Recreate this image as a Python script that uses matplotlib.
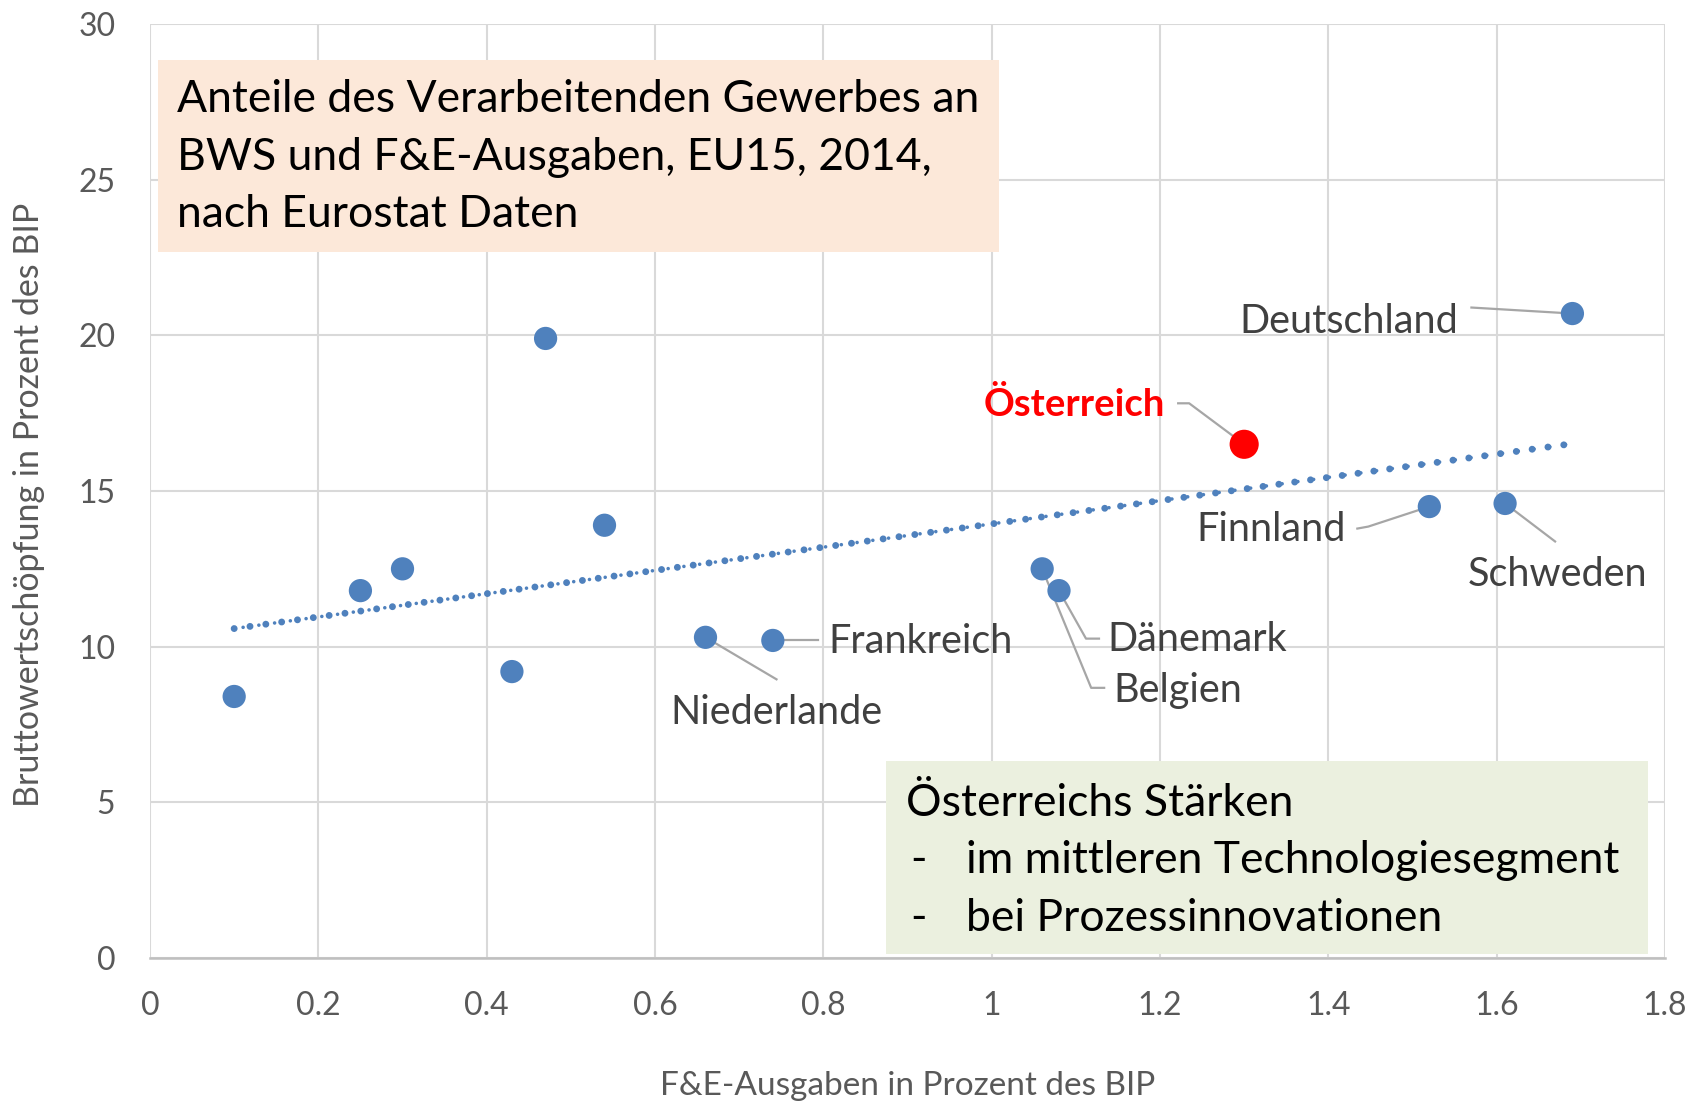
import numpy as np
import matplotlib
matplotlib.use("Agg")
import matplotlib.pyplot as plt
from matplotlib.patches import Rectangle
from matplotlib.transforms import IdentityTransform

# R&D spending (% of GDP) vs. gross value added of manufacturing (% of GDP)
rd_share = [0.10, 0.25, 0.30, 0.43, 0.47, 0.54, 0.66, 0.74, 1.06, 1.08, 1.30, 1.52, 1.61, 1.69]
gva_share = [8.4, 11.8, 12.5, 9.2, 19.9, 13.9, 10.3, 10.2, 12.5, 11.8, 16.5, 14.5, 14.6, 20.7]
country = ["", "", "", "", "", "", "Niederlande", "Frankreich", "Belgien", "Dänemark",
           "Österreich", "Finnland", "Schweden", "Deutschland"]

# label placement: pixel offsets from the point (x right, y down)
# (leader line vertices, text anchor, horizontal alignment)
label_layout = {
    "Deutschland": ([(0, 0), (-101, -6)], (-114, 8), "right"),
    "Österreich": ([(0, 0), (-55, -41), (-66, -41)], (-79, -40), "right"),
    "Finnland": ([(0, 0), (-61, 20), (-72, 22)], (-84, 23), "right"),
    "Schweden": ([(0, 0), (50, 38)], (-37, 71), "left"),
    "Frankreich": ([(0, 0), (45, 0)], (56, 1), "left"),
    "Niederlande": ([(0, 0), (71, 42)], (-35, 75), "left"),
    "Dänemark": ([(0, 0), (27, 48), (40, 48)], (48, 49), "left"),
    "Belgien": ([(0, 0), (49, 119), (62, 119)], (71, 122), "left"),
}

FONT = "Lato"
BLUE = "#4F81BD"
GREY_TXT = "#595959"

fig = plt.figure(figsize=(17.03, 11.07), dpi=100)
ax = fig.add_axes([150 / 1703, 1 - 958 / 1107, 1515 / 1703, 934 / 1107])

ax.set_xlim(0, 1.8)
ax.set_ylim(0, 30)
ax.set_xticks(np.arange(0, 1.81, 0.2))
ax.set_yticks(np.arange(0, 31, 5))
ax.set_xticklabels(["0", "0.2", "0.4", "0.6", "0.8", "1", "1.2", "1.4", "1.6", "1.8"])
ax.grid(color="#D9D9D9", lw=1.5, zorder=0)
ax.set_axisbelow(True)
for side in ["top", "right", "left"]:
    ax.spines[side].set_visible(False)
ax.spines["bottom"].set_color("#BFBFBF")
ax.spines["bottom"].set_linewidth(1.8)
ax.tick_params(length=0, labelsize=23, labelcolor=GREY_TXT)
ax.tick_params(axis="x", pad=24)
ax.tick_params(axis="y", pad=25)
for lbl in ax.get_xticklabels() + ax.get_yticklabels():
    lbl.set_fontfamily(FONT)

ax.set_xlabel("F&E-Ausgaben in Prozent des BIP", fontsize=24, color=GREY_TXT, family=FONT)
ax.set_ylabel("Bruttowertschöpfung in Prozent des BIP", fontsize=24.5, color=GREY_TXT, family=FONT)
ax.xaxis.set_label_coords(0.5, -0.137)
ax.xaxis.label.set_va("center")
ax.yaxis.set_label_coords(-0.08, 0.485)
ax.yaxis.label.set_va("center")

# linear trend line (big and small round dots, like the original)
slope, intercept = np.polyfit(rd_share, gva_share, 1)
tx = np.array([min(rd_share), max(rd_share)])
ty = slope * tx + intercept
ax.plot(tx, ty, color=BLUE, lw=5.0, linestyle=(0, (0.001, 2.3)),
        dash_capstyle="round", zorder=2)
ax.plot(tx, ty, color=BLUE, lw=2.6, linestyle=(1.9, (0.001, 4.4)),
        dash_capstyle="round", zorder=2)

colors = ["#FF0000" if c == "Österreich" else BLUE for c in country]
sizes = [440 if c == "Österreich" else 280 for c in country]
ax.scatter(rd_share, gva_share, s=sizes, c=colors, edgecolors="none", zorder=4)

# data labels with leader lines
fig.canvas.draw()
for x, y, name in zip(rd_share, gva_share, country):
    if name not in label_layout:
        continue
    verts, (tx_off, ty_off), ha = label_layout[name]
    px, py = ax.transData.transform((x, y))
    ax.plot([px + dx for dx, dy in verts], [py - dy for dx, dy in verts],
            transform=IdentityTransform(), color="#A6A6A6", lw=1.6, zorder=3)
    red = name == "Österreich"
    ax.text(px + tx_off, py - ty_off, name, transform=IdentityTransform(),
            ha=ha, va="center", fontsize=27.5 if red else 28.5, family=FONT,
            color="#FF0000" if red else "#404040",
            fontweight="bold" if red else "normal", zorder=5)

# title box
ax.add_patch(Rectangle((158 / 1703, 1 - 252 / 1107), 841 / 1703, 192 / 1107,
                       transform=fig.transFigure, facecolor="#FCE8D9", edgecolor="none",
                       zorder=3, clip_on=False))
title_lines = ["Anteile des Verarbeitenden Gewerbes an",
               "BWS und F&E-Ausgaben, EU15, 2014,",
               "nach Eurostat Daten"]
for i, line in enumerate(title_lines):
    fig.text(177 / 1703, 1 - (112 + 57.5 * i) / 1107, line, fontsize=32, family=FONT,
             color="black", va="baseline", zorder=6)

# strengths box
ax.add_patch(Rectangle((886 / 1703, 1 - 954 / 1107), 762 / 1703, 193 / 1107,
                       transform=fig.transFigure, facecolor="#EBF0DF", edgecolor="none",
                       zorder=3, clip_on=False))
fig.text(906 / 1703, 1 - 816 / 1107, "Österreichs Stärken", fontsize=32, family=FONT,
         color="black", va="baseline")
bullets = ["im mittleren Technologiesegment", "bei Prozessinnovationen"]
for i, line in enumerate(bullets):
    yb = 1 - (873 + 58 * i) / 1107
    fig.text(910 / 1703, yb, "-", fontsize=32, family=FONT, color="black", va="baseline")
    fig.text(966 / 1703, yb, line, fontsize=32, family=FONT, color="black", va="baseline")

fig.savefig("out.png", dpi=100)
